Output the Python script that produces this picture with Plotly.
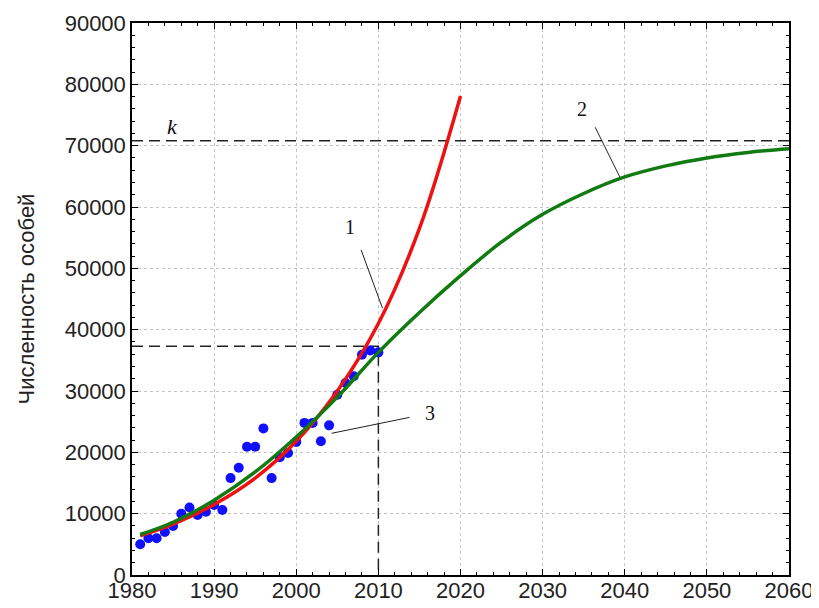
import plotly.graph_objects as go

# Observed data (blue dots)
obs_years = list(range(1981, 2011))
obs_values = [5000, 6000, 6000, 7000, 8000, 10000, 11000, 9800, 10300, 11400,
              10600, 15800, 17500, 20900, 20900, 23900, 15800, 19200, 19900, 21700,
              24800, 24800, 21800, 24400, 29400, 31300, 32400, 35900, 36600, 36300]

# Curve 1 (red, exponential model)
red_years = [1981, 1985, 1990, 1995, 2000, 2005, 2010, 2015, 2020]
red_values = [6400, 8300, 11500, 15800, 21800, 30000, 41000, 56500, 78100]

# Curve 2 (green, logistic model)
green_years = [1981, 1985, 1990, 1995, 2000, 2005, 2010, 2015, 2020, 2025,
               2030, 2035, 2040, 2045, 2050, 2055, 2060]
green_values = [6600, 8600, 12200, 16800, 22500, 29000, 36300, 42800, 48800, 54300,
                58800, 62200, 64900, 66700, 68000, 68900, 69500]

# Reference levels
k_level = 70800
year_2010 = 2010
level_2010 = 37300

x_ticks = [1980, 1990, 2000, 2010, 2020, 2030, 2040, 2050, 2060]
y_ticks = [0, 10000, 20000, 30000, 40000, 50000, 60000, 70000, 80000, 90000]

fig = go.Figure()

dash_style = dict(color="#222222", width=1.5, dash="11px,6px")
fig.add_trace(go.Scatter(x=[1980, 2060], y=[k_level, k_level], mode="lines",
                         line=dash_style, showlegend=False, hoverinfo="skip"))
fig.add_trace(go.Scatter(x=[1980, year_2010, year_2010], y=[level_2010, level_2010, 0],
                         mode="lines", line=dash_style, showlegend=False, hoverinfo="skip"))

fig.add_trace(go.Scatter(x=obs_years, y=obs_values, mode="markers",
                         marker=dict(color="#1010ff", size=10), showlegend=False))
fig.add_trace(go.Scatter(x=red_years, y=red_values, mode="lines",
                         line=dict(color="#ee1111", width=3.5, shape="spline"), showlegend=False))
fig.add_trace(go.Scatter(x=green_years, y=green_values, mode="lines",
                         line=dict(color="#117a11", width=3.5, shape="spline"), showlegend=False))

# Leader lines
leaders = [((2007.9, 53000), (2010.5, 43500)),
           ((2036.4, 73000), (2039.4, 64900)),
           ((2004.3, 23100), (2013.8, 25700))]
for (x0, y0), (x1, y1) in leaders:
    fig.add_shape(type="line", x0=x0, y0=y0, x1=x1, y1=y1,
                  line=dict(color="#222222", width=1))

labels = [("1", 2006.5, 56700), ("2", 2034.8, 75900), ("3", 2016.3, 26400)]
for t, x, y in labels:
    fig.add_annotation(x=x, y=y, text=t, showarrow=False,
                       font=dict(family="Liberation Serif", size=20, color="#111111"))
fig.add_annotation(x=1984.9, y=73200, text="<i>k</i>", showarrow=False,
                   font=dict(family="Liberation Serif", size=22, color="#111111"))

axis_common = dict(showline=True, linecolor="black", linewidth=1.5, mirror="ticks",
                   ticks="inside", ticklen=6, tickwidth=1, tickcolor="black",
                   showgrid=True, gridcolor="#c4c4c4", griddash="dot", gridwidth=1,
                   zeroline=False,
                   tickfont=dict(family="Liberation Sans", size=22, color="#222222"))

fig.update_xaxes(range=[1980, 2060], tickvals=x_ticks, ticktext=[str(v) for v in x_ticks],
                 ticklabelstandoff=-5,
                 minor=dict(dtick=2, ticks="inside", ticklen=3, tickcolor="black", showgrid=False),
                 **axis_common)
fig.update_yaxes(range=[0, 90000], tickvals=y_ticks, ticktext=[str(v) for v in y_ticks],
                 minor=dict(dtick=2000, ticks="inside", ticklen=3, tickcolor="black", showgrid=False),
                 title=dict(text="Численность особей", standoff=24,
                            font=dict(family="Liberation Sans", size=22, color="#222222")),
                 **axis_common)

# The page body has an 8px margin, so the figure is sized to compensate.
fig.update_layout(width=811, height=600, paper_bgcolor="white", plot_bgcolor="white",
                  margin=dict(l=124, r=30, t=15, b=33, autoexpand=False))

fig.write_html("out.html")
